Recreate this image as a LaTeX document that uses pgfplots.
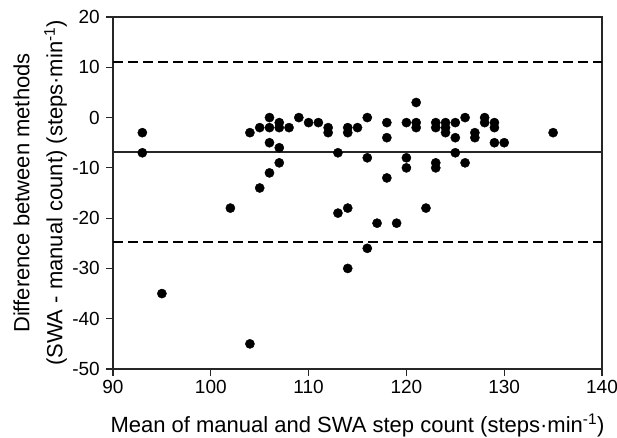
\documentclass[border=0pt]{standalone}
\usepackage{fontspec}
\setmainfont{Liberation Sans}
\usepackage{pgfplots}
\pgfplotsset{compat=1.18}

\begin{document}
\begin{tikzpicture}
\path[use as bounding box] (0,0) rectangle (617pt,437pt);
\begin{axis}[
    at={(113pt,68pt)}, anchor=south west,
    scale only axis,
    width=489pt, height=352pt,
    xmin=90, xmax=140, ymin=-50, ymax=20,
    xtick={90,100,...,140},
    ytick={-50,-40,...,20},
    xtick pos=bottom, ytick pos=left,
    tick align=outside,
    major tick length=7pt,
    axis line style={line width=1.5pt, black!85},
    every tick/.style={line width=1.1pt, black!85},
    /pgf/number format/assume math mode=true,
    ticklabel style={font=\fontsize{19}{22}\selectfont, inner sep=0pt},
    yticklabel style={xshift=-6pt},
    xticklabel style={yshift=-4pt},
    xlabel={Mean of manual and SWA step count (steps·min\textsuperscript{-1})},
    xlabel style={font=\fontsize{22}{26}\selectfont, at={(axis description cs:0.5,-0.179)}, anchor=base},
    ylabel={Difference between methods\\(SWA - manual count) (steps·min\textsuperscript{-1})},
    ylabel style={font=\fontsize{22}{33}\selectfont, align=center, at={(axis description cs:-0.149,0.5)}, anchor=center},
  ]
  % limits of agreement and mean difference
  \addplot[black, line width=1.8pt, dash pattern=on 10pt off 5pt] coordinates {(90,11.1) (140,11.1)};
  \addplot[black, line width=1.8pt, dash pattern=on 10pt off 5pt] coordinates {(90,-24.7) (140,-24.7)};
  \addplot[black!85, line width=1.6pt] coordinates {(90,-6.8) (140,-6.8)};
  % individual differences
  \addplot[only marks, mark=*, mark size=4.6pt, black] coordinates {
    (93,-3) (93,-7) (95,-35) (102,-18) (104,-3) (104,-45)
    (105,-2) (105,-14) (106,0) (106,-2) (106,-5) (106,-11)
    (107,-1) (107,-2) (107,-6) (107,-9) (108,-2) (109,0)
    (110,-1) (111,-1) (112,-2) (112,-3) (113,-7) (113,-19)
    (114,-2) (114,-3) (114,-18) (114,-30) (115,-2) (116,0)
    (116,-8) (116,-26) (117,-21) (118,-1) (118,-4) (118,-12)
    (119,-21) (120,-1) (120,-8) (120,-10) (121,3) (121,-1)
    (121,-2) (122,-18) (123,-1) (123,-2) (123,-9) (123,-10)
    (124,-1) (124,-2) (124,-3) (125,-1) (125,-4) (125,-7)
    (126,0) (126,-9) (127,-3) (127,-4) (128,0) (128,-1)
    (129,-1) (129,-2) (129,-5) (130,-5) (135,-3)
  };
\end{axis}
\end{tikzpicture}
\end{document}
